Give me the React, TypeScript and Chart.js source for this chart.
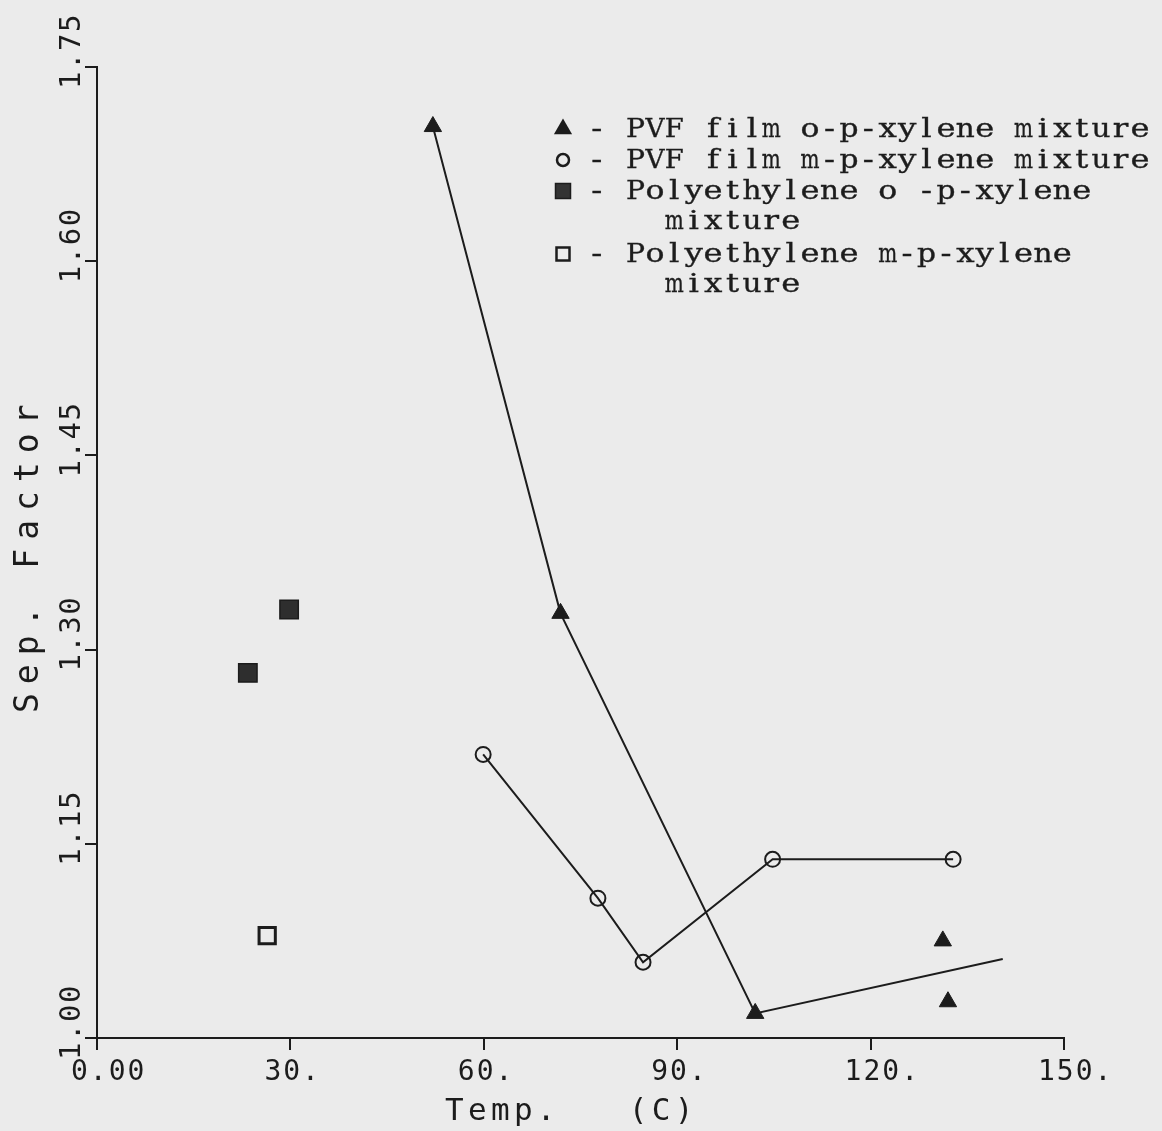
import { useEffect, useRef } from 'react';
import { Chart, registerables } from 'chart.js';

Chart.register(...registerables);

// ---- data ----
const xTickValues = [0, 30, 60, 90, 120, 150];
const xTickLabels = ['0.00', '30.', '60.', '90.', '120.', '150.'];
const yTickValues = [1.0, 1.15, 1.3, 1.45, 1.6, 1.75];
const yTickLabels = ['1.00', '1.15', '1.30', '1.45', '1.60', '1.75'];

// PVF film o-p-xylene (connected; last point is the line end without marker)
const pvfOpTemp = [52.1, 71.9, 102.1, 140.5];
const pvfOpSep = [1.704, 1.328, 1.019, 1.061];
// PVF film o-p-xylene, separate points
const pvfOpExtraTemp = [131.2, 132.0];
const pvfOpExtraSep = [1.075, 1.028];
// PVF film m-p-xylene
const pvfMpTemp = [59.9, 77.7, 84.7, 104.8, 132.8];
const pvfMpSep = [1.219, 1.108, 1.0585, 1.138, 1.138];
// Polyethylene o-p-xylene
const peOpTemp = [23.4, 29.8];
const peOpSep = [1.282, 1.331];
// Polyethylene m-p-xylene
const peMpTemp = [26.4];
const peMpSep = [1.079];

const legendLines = [
  '- PVF film o-p-xylene mixture',
  '- PVF film m-p-xylene mixture',
  '- Polyethylene o -p-xylene',
  '    mixture',
  '- Polyethylene m-p-xylene',
  '    mixture',
];
const legendMarkers = ['triangle', 'circle', 'filledRect', '', 'openRect', ''];
const xTitle = 'Temp.   (C)';
const yTitle = 'Sep. Factor';

const INK = '#1c1c1c';
const BG = '#ebebeb';

const toPoints = (xs: number[], ys: number[]) => xs.map((x, i) => ({ x, y: ys[i] }));

// typewriter-like text: each character centred in a fixed-pitch cell
function drawTypewriter(ctx: CanvasRenderingContext2D, text: string, x: number, y: number, pitch: number) {
  for (let i = 0; i < text.length; i++) {
    const ch = text[i];
    if (ch === ' ') continue;
    const w = ctx.measureText(ch).width;
    const cx = x + i * pitch + pitch / 2;
    const sx = Math.min(1.25, (pitch * 0.98) / w);
    ctx.save();
    ctx.translate(cx, y);
    ctx.scale(sx, 1);
    ctx.textAlign = 'center';
    ctx.fillText(ch, 0, 0);
    ctx.strokeText(ch, 0, 0);
    ctx.restore();
  }
}

const bgPlugin = {
  id: 'paperBg',
  beforeDraw(chart: any) {
    const ctx = chart.ctx;
    ctx.save();
    ctx.fillStyle = BG;
    ctx.fillRect(0, 0, chart.width, chart.height);
    ctx.restore();
  },
};

const textPlugin = {
  id: 'plotterText',
  afterDraw(chart: any) {
    const ctx = chart.ctx;
    const xs = chart.scales.x;
    const ys = chart.scales.y;
    ctx.save();
    ctx.fillStyle = INK;
    ctx.textBaseline = 'alphabetic';
    ctx.textAlign = 'left';

    // x tick labels
    ctx.font = '28px "DejaVu Sans Mono"';
    ctx.letterSpacing = '2px';
    xTickValues.forEach((v, i) => {
      const px = xs.getPixelForValue(v);
      ctx.fillText(xTickLabels[i], px - 26, xs.top + 42);
    });

    // y tick labels (rotated)
    ctx.font = '29px "DejaVu Sans Mono"';
    ctx.letterSpacing = '1.5px';
    yTickValues.forEach((v, i) => {
      const py = ys.getPixelForValue(v);
      ctx.save();
      ctx.translate(ys.right - 17, py + 22);
      ctx.rotate(-Math.PI / 2);
      ctx.fillText(yTickLabels[i], 0, 0);
      ctx.restore();
    });

    // x title
    ctx.font = '31px "DejaVu Sans Mono"';
    ctx.letterSpacing = '4.3px';
    ctx.fillText(xTitle, 445, 1120);

    // y title
    ctx.font = '33px "DejaVu Sans Mono"';
    ctx.letterSpacing = '9px';
    ctx.save();
    ctx.translate(38, 713);
    ctx.rotate(-Math.PI / 2);
    ctx.fillText(yTitle, 0, 0);
    ctx.restore();

    // legend
    ctx.letterSpacing = '0px';
    ctx.font = '26px "DejaVu Serif"';
    const baselines = [137, 168, 199, 229, 262, 292];
    legendLines.forEach((t, i) => {
      ctx.fillStyle = INK;
      ctx.strokeStyle = INK;
      ctx.lineWidth = 0.35;
      drawTypewriter(ctx, t, 587, baselines[i], 19.4);
      const m = legendMarkers[i];
      const cx = 563;
      const cy = baselines[i] - 8;
      if (m === 'triangle') {
        const r = 10.5;
        ctx.beginPath();
        ctx.moveTo(cx, cy - r);
        ctx.lineTo(cx + r * 0.866, cy + r / 2);
        ctx.lineTo(cx - r * 0.866, cy + r / 2);
        ctx.closePath();
        ctx.fill();
      } else if (m === 'circle') {
        ctx.lineWidth = 2.5;
        ctx.beginPath();
        ctx.arc(cx, cy, 6, 0, Math.PI * 2);
        ctx.stroke();
      } else if (m === 'filledRect') {
        ctx.fillStyle = '#333';
        ctx.fillRect(cx - 7.5, cy - 7.5, 15, 15);
        ctx.lineWidth = 1.5;
        ctx.strokeRect(cx - 7.5, cy - 7.5, 15, 15);
      } else if (m === 'openRect') {
        ctx.lineWidth = 2.5;
        ctx.strokeRect(cx - 6.5, cy - 6.5, 13, 13);
      }
    });
    ctx.restore();
  },
};

export default function App() {
  const ref = useRef<HTMLCanvasElement | null>(null);

  useEffect(() => {
    document.body.style.margin = '0';
    document.body.style.background = BG;
    const canvas = ref.current;
    if (!canvas) return;

    const axisCommon = {
      type: 'linear' as const,
      ticks: { display: false },
      grid: {
        display: true,
        drawOnChartArea: false,
        drawTicks: true,
        tickLength: 12,
        tickWidth: 2,
        tickColor: INK,
        color: INK,
        lineWidth: 2,
      },
      border: { display: true, color: INK, width: 2 },
    };

    const chart = new Chart(canvas, {
      type: 'scatter',
      data: {
        datasets: [
          {
            label: 'PVF film o-p-xylene mixture',
            data: toPoints(pvfOpTemp, pvfOpSep),
            showLine: true,
            borderColor: INK,
            borderWidth: 2,
            pointStyle: 'triangle',
            pointRadius: pvfOpTemp.map((_, i) => (i === pvfOpTemp.length - 1 ? 0 : 10)),
            pointBackgroundColor: INK,
            pointBorderColor: INK,
            pointBorderWidth: 1,
          },
          {
            label: 'PVF film o-p-xylene mixture (extra)',
            data: toPoints(pvfOpExtraTemp, pvfOpExtraSep),
            showLine: false,
            pointStyle: 'triangle',
            pointRadius: 10,
            pointBackgroundColor: INK,
            pointBorderColor: INK,
            pointBorderWidth: 1,
          },
          {
            label: 'PVF film m-p-xylene mixture',
            data: toPoints(pvfMpTemp, pvfMpSep),
            showLine: true,
            borderColor: INK,
            borderWidth: 2,
            pointStyle: 'circle',
            pointRadius: 7.5,
            pointBackgroundColor: 'rgba(0,0,0,0)',
            pointBorderColor: INK,
            pointBorderWidth: 2,
          },
          {
            label: 'Polyethylene o-p-xylene mixture',
            data: toPoints(peOpTemp, peOpSep),
            showLine: false,
            pointStyle: 'rect',
            pointRadius: 13,
            pointBackgroundColor: '#2e2e2e',
            pointBorderColor: INK,
            pointBorderWidth: 1.5,
          },
          {
            label: 'Polyethylene m-p-xylene mixture',
            data: toPoints(peMpTemp, peMpSep),
            showLine: false,
            pointStyle: 'rect',
            pointRadius: 11.5,
            pointBackgroundColor: 'rgba(0,0,0,0)',
            pointBorderColor: INK,
            pointBorderWidth: 3,
          },
        ],
      },
      options: {
        animation: false,
        responsive: false,
        devicePixelRatio: 1,
        events: [],
        layout: { padding: { top: 67, right: 98, left: 0, bottom: 0 } },
        plugins: {
          legend: { display: false },
          tooltip: { enabled: false },
          title: { display: false },
        },
        elements: { line: { tension: 0 } },
        scales: {
          x: {
            ...axisCommon,
            position: 'bottom',
            min: 0,
            max: 150,
            afterBuildTicks: (s: any) => {
              s.ticks = xTickValues.map((v) => ({ value: v }));
            },
            afterFit: (s: any) => {
              s.height = 93;
            },
          },
          y: {
            ...axisCommon,
            position: 'left',
            min: 1.0,
            max: 1.75,
            afterBuildTicks: (s: any) => {
              s.ticks = yTickValues.map((v) => ({ value: v }));
            },
            afterFit: (s: any) => {
              s.width = 97;
            },
          },
        },
      },
      plugins: [bgPlugin, textPlugin],
    } as any);

    return () => chart.destroy();
  }, []);

  return <canvas ref={ref} width={1162} height={1131} style={{ display: 'block' }} />;
}
